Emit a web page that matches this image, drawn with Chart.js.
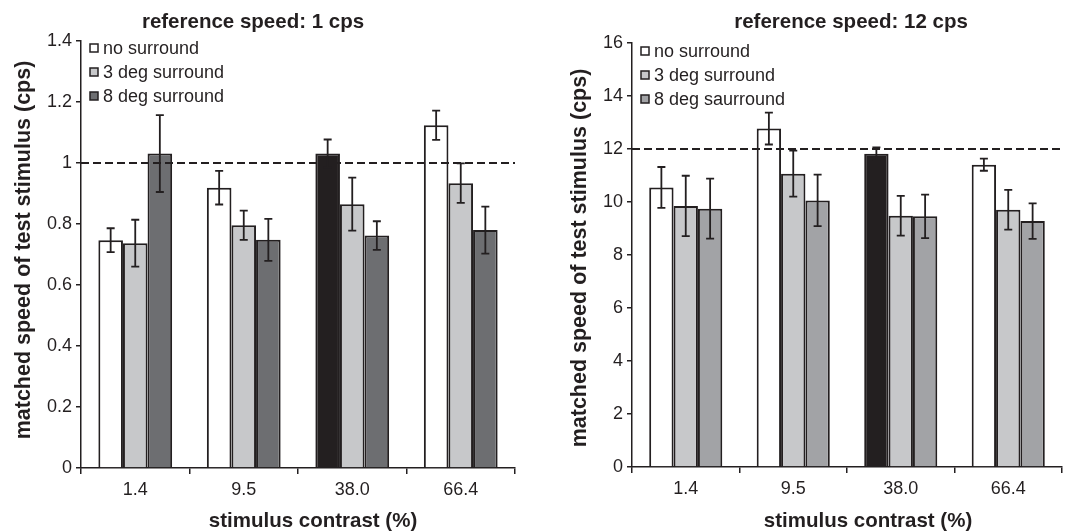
<!DOCTYPE html>
<html>
<head>
<meta charset="utf-8">
<script src="https://cdn.jsdelivr.net/npm/chart.js@4"></script>
<style>
  body { margin: 0; background: #fff; }
  .wrap { display: flex; }
  canvas { display: block; }
</style>
</head>
<body>
<div class="wrap">
  <canvas id="slowChart" width="540" height="531"></canvas>
  <canvas id="fastChart" width="541" height="531"></canvas>
</div>
<script>
// --- DATA ---
const contrastLabels = ['1.4', '9.5', '38.0', '66.4'];

// reference speed 1 cps
const slowNames = ['no surround', '3 deg surround', '8 deg surround'];
const slowNone = [0.747, 0.919, 1.031, 1.124];
const slowNoneErr = [0.039, 0.055, 0.046, 0.048];
const slow3deg = [0.737, 0.796, 0.865, 0.934];
const slow3degErr = [0.077, 0.048, 0.087, 0.065];
const slow8deg = [1.031, 0.748, 0.762, 0.780];
const slow8degErr = [0.126, 0.069, 0.047, 0.077];

// reference speed 12 cps
const fastNames = ['no surround', '3 deg surround', '8 deg saurround'];
const fastNone = [10.55, 12.77, 11.82, 11.41];
const fastNoneErr = [0.77, 0.60, 0.24, 0.23];
const fast3deg = [9.85, 11.07, 9.48, 9.71];
const fast3degErr = [1.14, 0.87, 0.75, 0.75];
const fast8deg = [9.75, 10.06, 9.46, 9.28];
const fast8degErr = [1.13, 0.97, 0.82, 0.67];

const INK = '#231f20';
const FONT = "'Liberation Sans', Arial, sans-serif";

// reference condition (38.0 % contrast, no surround) is drawn black
function noneColors() {
    return contrastLabels.map(l => l === '38.0' ? INK : '#ffffff');
}

// --- PLUGIN: error bars, dashed reference, legend, titles ---
const decor = {
    id: 'decor',
    afterDatasetsDraw(chart, args, o) {
        const { ctx, chartArea: a, scales: { y } } = chart;
        ctx.save();

        // dashed reference line
        const yr = y.getPixelForValue(o.refValue);
        ctx.setLineDash([8, 4]);
        ctx.lineWidth = 1.8;
        ctx.strokeStyle = INK;
        ctx.beginPath();
        ctx.moveTo(a.left, yr);
        ctx.lineTo(a.right, yr);
        ctx.stroke();
        ctx.setLineDash([]);

        // error bars
        chart.data.datasets.forEach((ds, i) => {
            chart.getDatasetMeta(i).data.forEach((bar, j) => {
                const v = ds.data[j], e = ds.errors[j];
                const top = y.getPixelForValue(v + e);
                const bot = y.getPixelForValue(v - e);
                ctx.beginPath();
                ctx.moveTo(bar.x, top); ctx.lineTo(bar.x, bot);
                ctx.moveTo(bar.x - 4, top); ctx.lineTo(bar.x + 4, top);
                ctx.moveTo(bar.x - 4, bot); ctx.lineTo(bar.x + 4, bot);
                ctx.stroke();
            });
        });
        ctx.restore();
    },
    afterDraw(chart, args, o) {
        const { ctx, chartArea: a } = chart;
        ctx.save();
        ctx.fillStyle = INK;

        // legend inside plot
        ctx.font = '18px ' + FONT;
        ctx.textBaseline = 'middle';
        ctx.textAlign = 'left';
        chart.data.datasets.forEach((ds, i) => {
            const ly = a.top + o.legendTop + i * 24;
            const lx = a.left + 9;
            ctx.fillStyle = o.markerColors[i];
            ctx.fillRect(lx, ly - 4, 8, 8);
            ctx.lineWidth = 1.5;
            ctx.strokeStyle = INK;
            ctx.strokeRect(lx, ly - 4, 8, 8);
            ctx.fillStyle = INK;
            ctx.fillText(ds.label, lx + 13, ly + 1);
        });

        // titles
        ctx.font = 'bold 20.5px ' + FONT;
        ctx.textAlign = 'center';
        ctx.fillText(o.title, o.titleX, 22);
        ctx.fillText('stimulus contrast (%)', o.xTitleX, 521);
        ctx.font = 'bold 21.5px ' + FONT;
        ctx.translate(o.yTitleX, o.yTitleY);
        ctx.rotate(-Math.PI / 2);
        ctx.fillText('matched speed of test stimulus (cps)', 0, 0);
        ctx.restore();
    }
};

function makeChart(id, cfg) {
    const ctx = document.getElementById(id).getContext('2d');
    const colors = cfg.colors;
    const barStyle = { borderColor: INK, borderWidth: 2, categoryPercentage: 0.68, barPercentage: 1.0 };
    return new Chart(ctx, {
        type: 'bar',
        data: {
            labels: contrastLabels,
            datasets: [
                { label: cfg.names[0], data: cfg.series[0], errors: cfg.errors[0], backgroundColor: noneColors(), ...barStyle },
                { label: cfg.names[1], data: cfg.series[1], errors: cfg.errors[1], backgroundColor: colors[1], ...barStyle },
                { label: cfg.names[2], data: cfg.series[2], errors: cfg.errors[2], backgroundColor: colors[2], ...barStyle }
            ]
        },
        options: {
            responsive: false,
            animation: false,
            layout: { padding: { top: cfg.top, right: cfg.right, left: 0, bottom: 0 } },
            plugins: {
                legend: { display: false },
                tooltip: { enabled: false },
                decor: {
                    refValue: cfg.refValue,
                    title: cfg.title,
                    titleX: cfg.titleX,
                    xTitleX: cfg.xTitleX,
                    yTitleX: cfg.yTitleX,
                    yTitleY: cfg.yTitleY,
                    legendTop: cfg.legendTop,
                    markerColors: colors
                }
            },
            scales: {
                x: {
                    afterFit: s => { s.height = cfg.xHeight; },
                    grid: { drawOnChartArea: false, offset: true, tickLength: 6, color: INK, lineWidth: 1.5 },
                    border: { color: INK, width: 1.5 },
                    ticks: { color: INK, font: { family: FONT, size: 18 }, padding: 5 }
                },
                y: {
                    min: 0, max: cfg.max,
                    afterFit: s => { s.width = cfg.yWidth; },
                    grid: { drawOnChartArea: false, tickLength: 5, color: INK, lineWidth: 1.5 },
                    border: { color: INK, width: 1.5 },
                    ticks: {
                        stepSize: cfg.step, color: INK, font: { family: FONT, size: 18 }, padding: 4,
                        callback: v => String(+v.toFixed(1))
                    }
                }
            }
        },
        plugins: [decor]
    });
}

makeChart('slowChart', {
    names: slowNames,
    series: [slowNone, slow3deg, slow8deg],
    errors: [slowNoneErr, slow3degErr, slow8degErr],
    colors: ['#ffffff', '#c7c8ca', '#6d6e71'],
    refValue: 1, max: 1.4, step: 0.2,
    title: 'reference speed: 1 cps',
    titleX: 253, xTitleX: 313, yTitleX: 24, yTitleY: 250,
    legendTop: 7,
    top: 41, right: 25, yWidth: 81, xHeight: 63
});

makeChart('fastChart', {
    names: fastNames,
    series: [fastNone, fast3deg, fast8deg],
    errors: [fastNoneErr, fast3degErr, fast8degErr],
    colors: ['#ffffff', '#c7c8ca', '#a2a3a6'],
    refValue: 12, max: 16, step: 2,
    title: 'reference speed: 12 cps',
    titleX: 311, xTitleX: 328, yTitleX: 40, yTitleY: 258,
    legendTop: 8,
    top: 43, right: 19, yWidth: 92, xHeight: 64
});
</script>
</body>
</html>
